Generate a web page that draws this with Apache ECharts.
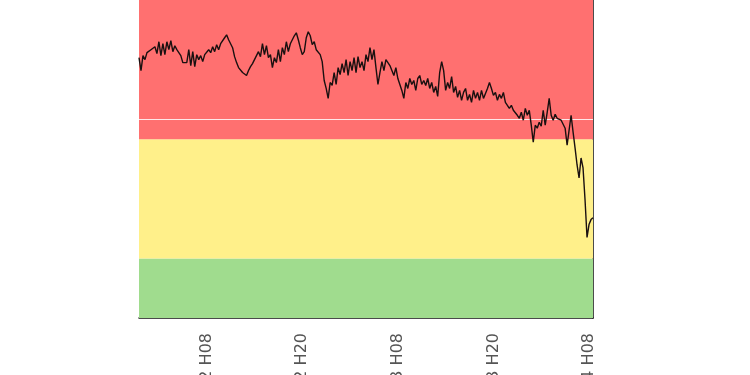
<!DOCTYPE html>
<html>
<head>
<meta charset="utf-8">
<script src="https://cdn.jsdelivr.net/npm/echarts@6/dist/echarts.min.js"></script>
<style>
html,body{margin:0;padding:0;background:#fff;}
#chart{width:750px;height:375px;}
</style>
</head>
<body>
<div id="chart"></div>
<script>
// Series values (15-minute samples)
const values = [
26.2,24.9,26.4,26.0,26.7,26.5,27.0,26.8,27.3,26.6,
27.8,26.4,27.6,26.5,27.8,27.0,27.9,26.8,27.4,27.0,
26.7,26.4,25.7,25.6,25.7,27.0,25.4,26.8,25.3,26.5,
26.0,26.4,25.8,26.5,26.3,27.0,26.7,27.3,26.8,27.5,
27.0,27.6,27.4,28.2,28.5,28.0,28.2,27.2,26.3,25.7,
25.2,25.4,24.7,24.9,24.4,24.9,25.3,25.6,26.0,25.8,
26.8,26.3,27.6,26.5,27.4,26.2,26.5,25.2,26.2,25.7,
27.0,25.8,27.2,26.5,27.8,26.8,27.6,27.8,28.4,28.7,
28.0,27.2,26.5,26.8,28.2,28.8,28.4,27.5,27.8,27.0,
27.2,26.5,25.8,23.9,23.1,22.1,23.7,23.4,24.7,23.5,
25.2,24.5,25.6,24.7,26.0,24.4,25.8,24.9,26.2,24.7,
26.3,25.2,25.8,24.9,26.5,25.8,27.2,26.0,27.0,25.2,
23.5,24.7,25.8,24.9,26.0,26.2,25.4,24.9,24.4,25.2,
24.1,23.9,22.9,22.1,23.7,23.1,24.1,23.5,23.9,22.9,
24.1,24.4,23.5,23.9,23.4,24.1,23.1,23.7,22.7,23.3,
22.3,24.7,25.8,24.9,22.9,23.7,23.1,24.3,22.7,23.3,
22.2,22.9,21.9,22.7,23.1,21.9,22.5,21.7,22.9,22.1,
22.7,21.9,22.9,22.1,22.6,23.1,23.7,23.1,22.4,22.7,
21.9,22.5,22.1,22.7,21.7,21.9,21.1,21.4,20.9,21.1,
20.4,20.1,20.7,19.9,21.1,20.4,20.9,19.4,17.7,19.4,
19.1,19.7,19.3,20.9,19.4,20.7,22.1,20.4,19.9,20.5,
20.1,20.3,19.9,19.9,19.1,17.4,18.9,20.4,18.7,17.1,
15.4,14.1,16.1,15.1,11.9,8.1,9.4,9.9,10.1
];
// Tick labels shown on the x axis
const tickLabels = ["12 H08","12 H20","13 H08","13 H20","14 H08"];
// Band thresholds and reference line
const bandLimits = [0, 6, 18, 32];
const bandColors = ["#a0dc8e", "#fff08a", "#ff7070"];
const refLine = 20;

// Categories: 15-minute steps starting 11 23:30
const categories = [];
let day = 11, minutes = 23*60 + 30;
for (let i = 0; i < values.length; i++) {
  const h = Math.floor(minutes/60), m = minutes % 60;
  categories.push(String(day).padStart(2,'0') + ' ' + String(h).padStart(2,'0') + ':' + String(m).padStart(2,'0'));
  minutes += 15;
  if (minutes >= 1440) { minutes -= 1440; day++; }
}
const labelMap = {};
tickLabels.forEach(t => {
  const [d, hh] = t.split(' ');
  labelMap[d + ' ' + hh.slice(1) + ':00'] = t;
});

const chart = echarts.init(document.getElementById('chart'), null, {renderer:'canvas'});
chart.setOption({
  animation: false,
  backgroundColor: '#ffffff',
  grid: {left: 139, right: 157, top: 0, bottom: 57, containLabel: false, outerBoundsMode: 'none'},
  xAxis: {
    type: 'category',
    data: categories,
    boundaryGap: false,
    axisLine: {show: true, lineStyle: {color: '#111', width: 1.5}},
    axisTick: {show: false},
    splitLine: {show: false},
    axisLabel: {
      rotate: 90,
      margin: 15,
      fontSize: 16,
      fontFamily: 'DejaVu Sans',
      color: '#555',
      hideOverlap: false,
      interval: (idx, val) => labelMap[val] !== undefined,
      formatter: val => labelMap[val] || ''
    }
  },
  yAxis: [{
    type: 'value',
    min: bandLimits[0],
    max: bandLimits[3],
    axisLine: {show: false},
    axisTick: {show: false},
    axisLabel: {show: false},
    splitLine: {show: false}
  }, {
    type: 'value',
    position: 'right',
    min: bandLimits[0],
    max: bandLimits[3],
    axisLine: {show: true, lineStyle: {color: '#111', width: 1.5}},
    axisTick: {show: false},
    axisLabel: {show: false},
    splitLine: {show: false}
  }],
  series: [{
    type: 'line',
    data: values,
    showSymbol: false,
    lineStyle: {color: '#1a1010', width: 1.4},
    z: 5,
    markArea: {
      silent: true,
      data: bandColors.map((c, i) => [
        {yAxis: bandLimits[i], itemStyle: {color: c, opacity: 1}},
        {yAxis: bandLimits[i+1]}
      ])
    },
    markLine: {
      silent: true,
      symbol: 'none',
      label: {show: false},
      lineStyle: {color: '#ffe8e8', width: 1.2, type: 'solid'},
      data: [{yAxis: refLine}]
    }
  }]
});
</script>
</body>
</html>
